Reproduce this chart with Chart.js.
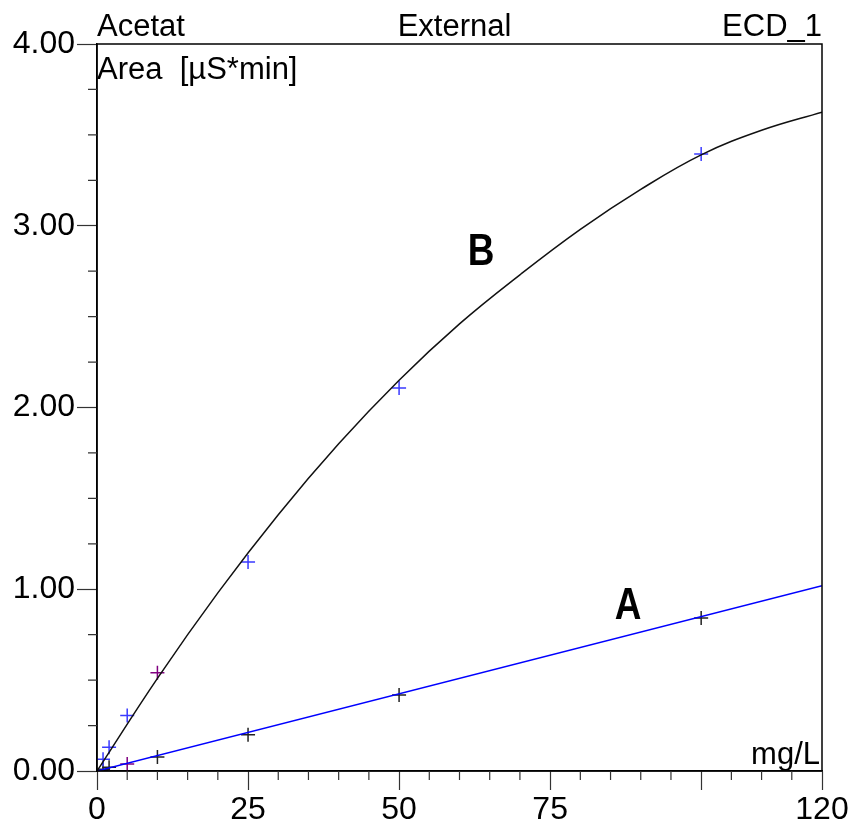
<!DOCTYPE html>
<html>
<head>
<meta charset="utf-8">
<script src="https://cdn.jsdelivr.net/npm/chart.js@4.4.1/dist/chart.umd.min.js"></script>
<style>
  html, body { margin: 0; padding: 0; background: #fff; }
  #wrap { width: 851px; height: 822px; }
</style>
</head>
<body>
<div id="wrap"><canvas id="calChart" width="851" height="822"></canvas></div>
<script>
// DATA
const stdConc = [1, 2, 5, 10, 25, 50, 100];
const areaB = [0.065, 0.13, 0.305, 0.54, 1.15, 2.107, 3.395];
const areaA = [0.01, 0.02, 0.038, 0.077, 0.20, 0.418, 0.842];
const colorsB = ['#3a3aff', '#3a3aff', '#3a3aff', '#800080', '#3a3aff', '#3a3aff', '#3a3aff'];
const colorsA = ['#222', '#222', '#800080', '#222', '#222', '#222', '#222'];

// fitted curve B
const fitX = [0, 10, 20, 30, 40, 50, 60, 70, 80, 90, 100, 110, 120];
const fitB = [0, 0.51, 0.98, 1.41, 1.80, 2.15, 2.46, 2.73, 2.98, 3.20, 3.39, 3.525, 3.625];
// fitted line A
const lineX = [0, 120];
const lineA = [0, 1.02];

const xLabels = [0, 25, 50, 75, 120];
const xMajor = [0, 25, 50, 75, 100, 120];

const FONT = "'Liberation Sans', Arial, sans-serif";

const pts = (xs, ys) => xs.map((x, i) => ({ x: x, y: ys[i] }));

// EXTRA DRAWING: frame, minor ticks, texts
const decor = {
  id: 'decor',
  afterDraw(chart) {
    const { ctx, chartArea: a, scales } = chart;
    const xs = scales.x, ys = scales.y;
    ctx.save();
    ctx.strokeStyle = '#000';
    ctx.lineWidth = 1.5;
    ctx.strokeRect(a.left, a.top, a.right - a.left, a.bottom - a.top);

    // minor ticks
    ctx.lineWidth = 1.2;
    ctx.strokeStyle = '#333';
    ctx.beginPath();
    for (let v = 0; v <= 120; v += 5) {
      if (xMajor.includes(v)) continue;
      const px = xs.getPixelForValue(v);
      ctx.moveTo(px, a.bottom);
      ctx.lineTo(px, a.bottom + 9);
    }
    for (let v = 0; v <= 4; v += 0.25) {
      if (Math.abs(v - Math.round(v)) < 0.01) continue;
      const py = ys.getPixelForValue(v);
      ctx.moveTo(a.left, py);
      ctx.lineTo(a.left - 9, py);
    }
    ctx.stroke();

    ctx.fillStyle = '#000';
    ctx.font = '31px ' + FONT;
    ctx.textBaseline = 'alphabetic';
    ctx.textAlign = 'left';
    ctx.fillText('Acetat', a.left, 36);
    ctx.fillText('Area  [µS*min]', a.left, 79);
    ctx.textAlign = 'center';
    ctx.fillText('External', (a.left + a.right) / 2 - 5, 36);
    ctx.textAlign = 'right';
    ctx.fillText('ECD_1', a.right, 36);
    ctx.fillText('mg/L', a.right - 2, 764);

    // curve letters
    ctx.font = 'bold 45px ' + FONT;
    ctx.textAlign = 'center';
    [['B', 481, 265], ['A', 628, 619]].forEach(([t, x, y]) => {
      ctx.save();
      ctx.translate(x, y);
      ctx.scale(0.82, 1);
      ctx.fillText(t, 0, 0);
      ctx.restore();
    });
    ctx.restore();
  }
};

// CHART
new Chart(document.getElementById('calChart'), {
  type: 'scatter',
  data: {
    datasets: [
      { type: 'line', data: pts(fitX, fitB), borderColor: '#111', borderWidth: 1.5, pointRadius: 0, tension: 0.4, fill: false },
      { type: 'line', data: pts(lineX, lineA), borderColor: '#0000ff', borderWidth: 1.5, pointRadius: 0, fill: false },
      { data: pts(stdConc, areaB), pointStyle: 'cross', pointRadius: 7, borderWidth: 1.5, borderColor: colorsB, backgroundColor: colorsB },
      { data: pts(stdConc, areaA), pointStyle: 'cross', pointRadius: 7, borderWidth: 1.5, borderColor: colorsA, backgroundColor: colorsA }
    ]
  },
  options: {
    responsive: false,
    animation: false,
    layout: { padding: { top: 44, right: 29, left: 0, bottom: 0 } },
    plugins: { legend: { display: false }, tooltip: { enabled: false } },
    scales: {
      x: {
        type: 'linear', min: 0, max: 120,
        border: { display: true, color: '#000', width: 1.5 },
        grid: { drawOnChartArea: false, tickLength: 19, tickWidth: 1.2, tickColor: c => xMajor.includes(c.tick.value) ? '#333' : 'rgba(0,0,0,0)' },
        ticks: { stepSize: 5, autoSkip: false, maxRotation: 0, padding: 1, color: '#000', font: { size: 32, family: FONT },
          callback: v => xLabels.includes(v) ? String(v) : '' },
        afterFit: s => { s.height = 51; }
      },
      y: {
        type: 'linear', min: 0, max: 4,
        border: { display: true, color: '#000', width: 1.5 },
        grid: { drawOnChartArea: false, tickLength: 20, tickWidth: 1.2, tickColor: c => Math.abs(c.tick.value - Math.round(c.tick.value)) < 0.01 ? '#333' : 'rgba(0,0,0,0)' },
        ticks: { stepSize: 0.25, autoSkip: false, padding: 2, color: '#000', font: { size: 32, family: FONT },
          callback: v => Math.abs(v - Math.round(v)) < 0.01 ? v.toFixed(2) : '' },
        afterFit: s => { s.width = 97; }
      }
    }
  },
  plugins: [decor]
});
</script>
</body>
</html>
